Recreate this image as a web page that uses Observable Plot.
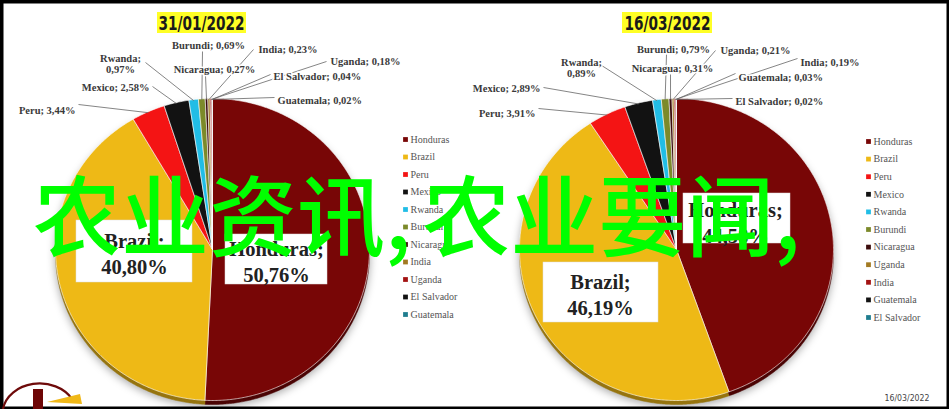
<!DOCTYPE html>
<html><head><meta charset="utf-8">
<script src="https://cdn.jsdelivr.net/npm/d3@7"></script>
<script src="https://cdn.jsdelivr.net/npm/@observablehq/plot@0.6"></script>
<style>
body{margin:0;background:#fff;}
#wrap{position:relative;width:949px;height:409px;overflow:hidden;background:#fff;}
#wrap svg{display:block;}
#overlay{position:absolute;left:0;top:0;pointer-events:none;}
</style></head><body><div id="wrap"></div>
<script>
// ---------- data ----------
const titles = ["31/01/2022", "16/03/2022"];
const countriesA = ["Honduras","Brazil","Peru","Mexico","Rwanda","Burundi","Nicaragua","India","Uganda","El Salvador","Guatemala"];
const sharesA = [50.76, 40.80, 3.44, 2.58, 0.97, 0.69, 0.27, 0.23, 0.18, 0.04, 0.02];
const countriesB = ["Honduras","Brazil","Peru","Mexico","Rwanda","Burundi","Nicaragua","Uganda","India","Guatemala","El Salvador"];
const sharesB = [44.58, 46.19, 3.91, 2.89, 0.89, 0.79, 0.31, 0.21, 0.19, 0.03, 0.02];
const seriesColors = ["#780606","#eeb916","#f41414","#121212","#21bde6","#7c8a2a","#3c0c0c","#a27a22","#a31212","#121212","#1f7d8f"];
const footnote = "16/03/2022";
const watermark = "农业资讯,农业要闻,";

// ---------- layout (positions only) ----------
const W = 949, H = 409;
const pieGeom = [
  {cx: 212, cy: 249, rx: 157, ry: 151},
  {cx: 676, cy: 249, rx: 157, ry: 151}
];
// outside labels: [textX, textY, anchor, lineStartX, lineStartY]
const outLayout = [
  {
    "Peru": [75, 110, "end", 78, 104],
    "Mexico": [149, 87, "end", 152, 86],
    "Rwanda": [120, 63, "middle", 145, 62],
    "Burundi": [208, 45, "middle", 202, 51],
    "Nicaragua": [214, 69, "middle", 205, 75],
    "India": [258, 49, "start", 253, 49],
    "Uganda": [330, 61, "start", 326, 61],
    "El Salvador": [273, 76, "start", 270, 74],
    "Guatemala": [277, 100, "start", 274, 97]
  },
  {
    "Peru": [535, 113, "end", 538, 108],
    "Mexico": [540, 88, "end", 543, 87],
    "Rwanda": [581, 67, "middle", 598, 63],
    "Burundi": [673, 49, "middle", 666, 54],
    "Nicaragua": [672, 68, "middle", 670, 74],
    "Uganda": [720, 50, "start", 715, 50],
    "India": [800, 62, "start", 797, 58],
    "Guatemala": [738, 77, "start", 735, 73],
    "El Salvador": [735, 101, "start", 732, 98]
  }
];
// inside labels: [centerX, centerY, boxX1, boxY1, boxX2, boxY2]
const inLayout = [
  {"Brazil": [134, 252, 76, 220, 192, 282], "Honduras": [276, 260, 225, 234, 327, 284]},
  {"Brazil": [600, 293, 543, 262, 658, 322], "Honduras": [735, 221, 683, 193, 790, 243]}
];
const legendLayout = [{sx: 405, tx: 410, y0: 139, dy: 17.5}, {sx: 868, tx: 873, y0: 141, dy: 17.6}];
const titleLayout = [{x: 201, y: 23, x1: 157, x2: 246, y1: 12, y2: 33}, {x: 667, y: 23, x1: 622, x2: 712, y1: 12, y2: 33}];

// ---------- build ----------
const charts = [
  {names: countriesA, values: sharesA},
  {names: countriesB, values: sharesB}
];
const fmt = v => v.toFixed(2).replace(".", ",") + "%";

const polys = [], leaders = [], outLabels = [], inLabels = [], inBoxes = [], legendItems = [], titleItems = [];
charts.forEach((c, ci) => {
  const g = pieGeom[ci];
  const total = d3.sum(c.values);
  let cum = 0;
  c.names.forEach((name, i) => {
    const a0 = cum / total * 2 * Math.PI;
    cum += c.values[i];
    const a1 = cum / total * 2 * Math.PI;
    const color = seriesColors[i];
    const key = ci + "-" + name;
    const steps = Math.max(2, Math.ceil((a1 - a0) / (Math.PI / 360)));
    polys.push({key, color, x: g.cx, y: g.cy});
    for (let k = 0; k <= steps; k++) {
      const a = a0 + (a1 - a0) * k / steps;
      polys.push({key, color, x: g.cx + g.rx * Math.sin(a), y: g.cy - g.ry * Math.cos(a)});
    }
    polys.push({key, color, x: g.cx, y: g.cy});
    const am = (a0 + a1) / 2;
    const ex = g.cx + g.rx * Math.sin(am), ey = g.cy - g.ry * Math.cos(am) + 1;
    const lo = outLayout[ci][name];
    if (lo) {
      const txt = name === "Rwanda" ? name + ";\n" + fmt(c.values[i]) : name + "; " + fmt(c.values[i]);
      outLabels.push({x: lo[0], y: lo[1], anchor: lo[2], text: txt});
      leaders.push({x1: lo[3], y1: lo[4], x2: ex, y2: ey});
    }
    const li = inLayout[ci][name];
    if (li) {
      inLabels.push({x: li[0], y: li[1], text: name + ";\n" + fmt(c.values[i])});
      inBoxes.push({x1: li[2], y1: li[3], x2: li[4], y2: li[5]});
    }
    const L = legendLayout[ci];
    legendItems.push({sx: L.sx, tx: L.tx, y: L.y0 + i * L.dy, color, text: name});
  });
  const t = titleLayout[ci];
  titleItems.push({...t, text: titles[ci]});
});

const serif = "'Liberation Serif', 'Times New Roman', serif";
const narrow = "'Liberation Sans Narrow', 'DejaVu Sans Condensed', 'Liberation Sans', sans-serif";
const outText = anchor => Plot.text(outLabels.filter(d => d.anchor === anchor), {
  x: "x", y: "y", text: "text", textAnchor: anchor, fontFamily: serif, fontWeight: "bold",
  fontSize: 10.5, fill: "#3a3a3a", stroke: "#fff", strokeWidth: 3, lineHeight: 1.05
});

const chart = Plot.plot({
  width: W, height: H, margin: 0,
  x: {domain: [0, W], range: [0, W], axis: null},
  y: {domain: [0, H], range: [0, H], axis: null},
  color: {type: "identity"},
  style: {background: "#fff"},
  marks: [
    // 3D rim
    Plot.line(polys, {x: "x", y: "y", z: "key", fill: d => d3.color(d.color).darker(1.3).formatHex(), stroke: d => d3.color(d.color).darker(1.3).formatHex(), strokeWidth: 0.5, dy: 4}),
    // pie top
    Plot.line(polys, {x: "x", y: "y", z: "key", fill: "color", stroke: "#ffffff", strokeWidth: 0.7, strokeOpacity: 0.9}),
    // leader lines
    Plot.link(leaders, {x1: "x1", y1: "y1", x2: "x2", y2: "y2", stroke: "#666", strokeWidth: 0.8}),
    // outside labels
    outText("start"), outText("middle"), outText("end"),
    // inside label boxes + text
    Plot.rect(inBoxes, {x1: "x1", x2: "x2", y1: "y1", y2: "y2", fill: "#fff", stroke: "#ddd", strokeWidth: 0.5}),
    Plot.text(inLabels, {x: "x", y: "y", text: "text", fontFamily: serif, fontWeight: "bold", fontSize: 20.5, fill: "#222", lineHeight: 1.25}),
    // legends
    Plot.dot(legendItems, {x: "sx", y: "y", symbol: "square", r: 2.7, fill: "color"}),
    Plot.text(legendItems, {x: "tx", y: "y", text: "text", textAnchor: "start", fontFamily: serif, fontSize: 10, fill: "#555"}),
    // titles
    Plot.rect(titleItems, {x1: "x1", x2: "x2", y1: "y1", y2: "y2", fill: "#ffff26"}),
    Plot.text(titleItems, {x: "x", y: "y", text: "text", fontFamily: narrow, fontWeight: "bold", fontSize: 20, fill: "#1a1a1a"}),
    // footnote
    Plot.text([footnote], {x: () => 929, y: () => 397, text: d => d, textAnchor: "end", fontFamily: narrow, fontSize: 9.5, fill: "#444"}),
    // frame
    Plot.frame({stroke: "#000", strokeWidth: 6})
  ]
});
document.getElementById("wrap").appendChild(chart);
// soft shadow under pies
const lines = chart.querySelectorAll('g[aria-label="line"]');
if (lines[0]) lines[0].style.filter = "drop-shadow(0px 2px 4px rgba(0,0,0,0.35))";
// fit title / footnote text to the narrow widths of the original face
const textGroups = chart.querySelectorAll('g[aria-label="text"]');
const fit = (grp, len) => grp && grp.querySelectorAll("text").forEach(el => {
  el.setAttribute("textLength", len); el.setAttribute("lengthAdjust", "spacingAndGlyphs");
});
fit(textGroups[5], 86);
fit(textGroups[6], 45);

// overlay: logo decoration + watermark text
const ov = d3.select("#wrap").append("svg").attr("id", "overlay").attr("width", W).attr("height", H);
ov.append("path").attr("d", "M3,409 A37,30 0 0 1 72,399").attr("fill", "none").attr("stroke", "#6e0a0a").attr("stroke-width", 2.2);
ov.append("rect").attr("x", 33).attr("y", 389).attr("width", 10).attr("height", 20).attr("fill", "#6e0505");
ov.append("path").attr("d", "M47,402 L80,394 L82,404 Z").attr("fill", "#f0b818");
const cut = watermark.indexOf(",") + 1;
const wm = ov.append("text").attr("x", 33).attr("y", 249).attr("font-size", 88)
  .attr("font-family", "'Noto Sans CJK SC', sans-serif").attr("font-weight", 500)
  .attr("fill", "#00ff00");
wm.append("tspan").text(watermark.slice(0, cut));
wm.append("tspan").attr("dx", 11).text(watermark.slice(cut));
</script></body></html>
